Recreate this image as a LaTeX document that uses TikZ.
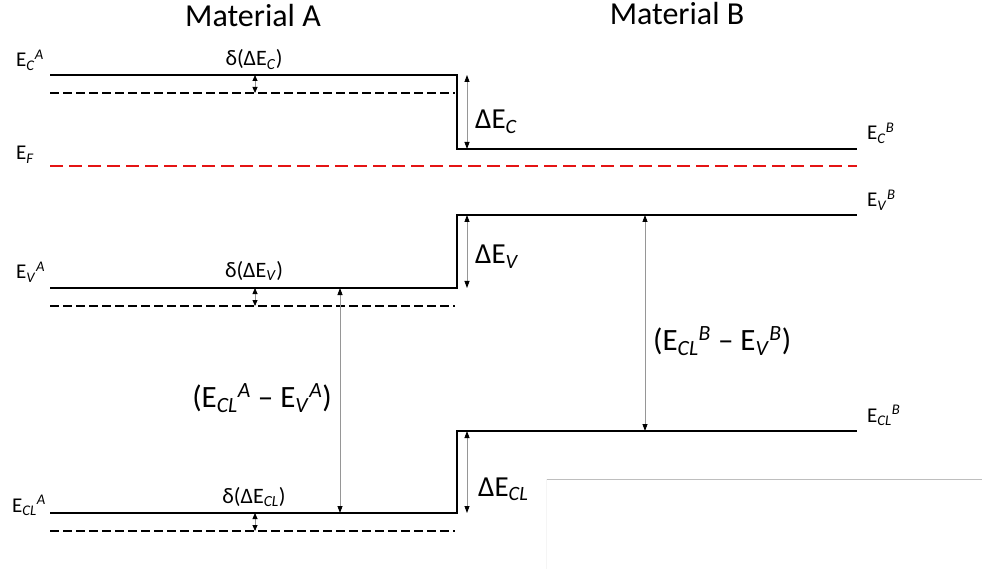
\documentclass[tikz,border=0pt]{standalone}
\usepackage{fontspec}
\setmainfont{Carlito}
\usetikzlibrary{positioning,arrows.meta}
\definecolor{fermired}{RGB}{228,20,20}
\definecolor{guidegray}{RGB}{150,150,150}
\definecolor{edgegray}{RGB}{190,190,190}
\newcommand{\lev}[2]{E\textsubscript{\textit{#1}}\textsuperscript{\textit{#2}}}

\begin{document}
\begin{tikzpicture}[x=1pt, y=-1pt,
  band/.style={line width=1.8pt},
  shifted/.style={line width=1.4pt, dash pattern=on 9pt off 4pt},
  fermi/.style={line width=1.8pt, color=fermired, dash pattern=on 13pt off 6pt},
  offset/.style={{Triangle[length=6pt,width=5pt,black]}-{Triangle[length=6pt,width=5pt,black]},
                 line width=0.8pt, color=guidegray},
  gap/.style={{Triangle[length=7pt,width=5pt,black]}-{Triangle[length=7pt,width=5pt,black]},
              line width=0.8pt, color=guidegray},
  title/.style={font=\fontsize{32}{38}\selectfont, inner sep=0pt, anchor=base},
  lvl/.style={font=\fontsize{21}{25}\selectfont, inner sep=0pt, anchor=base west},
  small/.style={font=\fontsize{22}{26}\selectfont, inner sep=0pt, anchor=base},
  big/.style={font=\fontsize{29}{34}\selectfont, inner sep=0pt, anchor=base west},
  sep/.style={font=\fontsize{31}{36}\selectfont, inner sep=0pt, anchor=base west}
]
  \useasboundingbox (0,0) rectangle (982,569);

  % band edges: material A on the left, material B on the right
  \coordinate (cA) at (50,75);   \coordinate (cJ) at (457,75);   \coordinate (cB) at (857,149);
  \coordinate (vA) at (50,288);  \coordinate (vJ) at (457,288);  \coordinate (vB) at (857,215);
  \coordinate (kA) at (50,513);  \coordinate (kJ) at (457,513);  \coordinate (kB) at (857,431);
  \draw[band] (cA) -- (cJ) |- (cB);
  \draw[band] (vA) -- (vJ) |- (vB);
  \draw[band] (kA) -- (kJ) |- (kB);

  % Fermi level
  \coordinate (fA) at (50,166);  \coordinate (fB) at (857,166);
  \draw[fermi] (fA) -- (fB);

  % shifted levels of material A
  \foreach \yl/\ys/\sub/\yt in {75/93/C/66, 288/306/V/277, 513/531/CL/503}{
    \coordinate (s\sub) at (50,\ys);
    \coordinate (t\sub) at (455,\ys);
    \draw[shifted] (s\sub) -- (t\sub);
    \coordinate (o\sub) at (255,\yl);
    \coordinate (p\sub) at (255,\ys);
    \draw[offset] (o\sub) -- (p\sub);
    \node[small] (d\sub) at (254,\yt) {δ(ΔE\textsubscript{\textit{\sub}})};
  }

  % band offsets at the junction
  \coordinate (gC1) at (467,75);   \coordinate (gC2) at (467,149);
  \coordinate (gV1) at (467,215);  \coordinate (gV2) at (467,288);
  \coordinate (gK1) at (467,431);  \coordinate (gK2) at (467,513);
  \draw[gap] (gC1) -- (gC2);
  \draw[gap] (gV1) -- (gV2);
  \draw[gap] (gK1) -- (gK2);
  \node[big] (dEC)  at (475,129) {ΔE\textsubscript{\textit{C}}};
  \node[big] (dEV)  at (475,264) {ΔE\textsubscript{\textit{V}}};
  \node[big] (dECL) at (478,496) {ΔE\textsubscript{\textit{CL}}};

  % core level to valence band separations
  \coordinate (sA1) at (340,288);  \coordinate (sA2) at (340,513);
  \coordinate (sB1) at (645,215);  \coordinate (sB2) at (645,431);
  \draw[gap] (sA1) -- (sA2);
  \draw[gap] (sB1) -- (sB2);
  \node[sep, anchor=base east] (sepA) at (332,407) {(\lev{CL}{A} – \lev{V}{A})};
  \node[sep] (sepB) at (653,350) {(\lev{CL}{B} – \lev{V}{B})};

  % level names
  \node[lvl] (nCA)  at (16,67)   {\lev{C}{A}};
  \node[lvl] (nF)   at (16,160)  {E\textsubscript{\textit{F}}};
  \node[lvl] (nVA)  at (16,279)  {\lev{V}{A}};
  \node[lvl] (nKA)  at (12,512)  {\lev{CL}{A}};
  \node[lvl] (nCB)  at (867,140) {\lev{C}{B}};
  \node[lvl] (nVB)  at (867,207) {\lev{V}{B}};
  \node[lvl] (nKB)  at (867,422) {\lev{CL}{B}};

  % titles
  \node[title] (matA) at (253,27) {Material A};
  \node[title] (matB) at (677,25) {Material B};

  % edge of the pasted frame
  \coordinate (eL) at (546,479);  \coordinate (eR) at (982,479);  \coordinate (eD) at (546,569);
  \draw[edgegray, line width=0.8pt] (eR) -- (eL);
  \draw[black!4, line width=0.6pt] (eL) -- (eD);
\end{tikzpicture}
\end{document}
